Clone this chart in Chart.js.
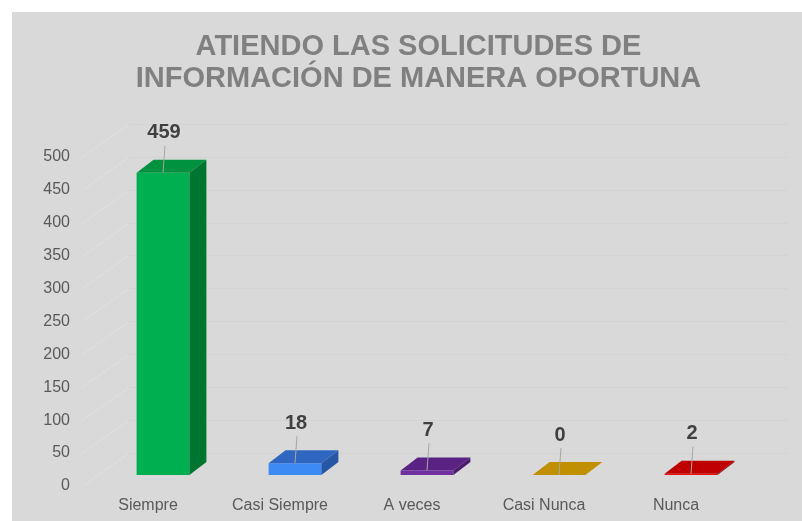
<!DOCTYPE html>
<html>
<head>
<meta charset="utf-8">
<script src="https://cdn.jsdelivr.net/npm/chart.js"></script>
<style>
  body { margin: 0; background: #ffffff; }
  .canvas-body { width: 802px; height: 521px; }
</style>
</head>
<body>
<div class="canvas-body"><canvas id="myChart" width="802" height="521"></canvas></div>
<script>
//  Data
// --------------
const categories = ['Siempre', 'Casi Siempre', 'A veces', 'Casi Nunca', 'Nunca']
const values = [459, 18, 7, 0, 2]
const yTicks = [0, 50, 100, 150, 200, 250, 300, 350, 400, 450, 500]
const titleLines = ['ATIENDO LAS SOLICITUDES DE', 'INFORMACIÓN DE MANERA OPORTUNA']

// colors: front / top / side of each bar
const frontColors = ['#00b050', '#3d8af5', '#7030a0', '#bf9000', '#f01010']
const topColors = ['#00923f', '#2e66c0', '#5a2383', '#c09000', '#c00000']
const sideColors = ['#007530', '#2856a6', '#4a1c6c', '#8f6c00', '#900000']

const FONT = '"Liberation Sans", Arial, sans-serif'

// depth of the 3d look
const depthX = 17, depthY = 13

// 3d walls, bar faces and labels
const bars3d = {
	id: 'bars3d',
	afterLayout(chart) {
		// title is centred on the whole grey box, not on the plot
		const tb = chart.titleBlock
		if (tb) {
			tb.left += 34
			tb.right += 34
		}
	},
	beforeDraw(chart) {
		const ctx = chart.ctx
		ctx.save()
		ctx.fillStyle = '#ffffff'
		ctx.fillRect(0, 0, chart.width, chart.height)
		ctx.fillStyle = '#d9d9d9'
		ctx.fillRect(12, 12, chart.width - 12, chart.height - 12)
		ctx.restore()
	},
	beforeDatasetsDraw(chart) {
		const ctx = chart.ctx
		const ys = chart.scales.y
		const a = chart.chartArea
		ctx.save()
		ctx.lineWidth = 1
		ys.ticks.forEach(t => {
			const py = Math.round(ys.getPixelForValue(t.value)) + 0.5
			ctx.strokeStyle = '#e1e1e1'
			ctx.beginPath()
			ctx.moveTo(a.left - 15, py + 11)
			ctx.lineTo(a.left + 32, py - 22)
			ctx.stroke()
			ctx.strokeStyle = '#d3d3d3'
			ctx.beginPath()
			ctx.moveTo(a.left + 32, py - 22)
			ctx.lineTo(a.right + 30, py - 22)
			ctx.stroke()
		})
		ctx.restore()
	},
	afterDatasetsDraw(chart) {
		const ctx = chart.ctx
		const meta = chart.getDatasetMeta(0)
		ctx.save()
		meta.data.forEach((bar, i) => {
			const half = bar.width / 2
			const l = bar.x - half, r = bar.x + half
			const t = bar.y, b = bar.base
			// top
			ctx.fillStyle = topColors[i]
			ctx.beginPath()
			ctx.moveTo(l, t)
			ctx.lineTo(r, t)
			ctx.lineTo(r + depthX, t - depthY)
			ctx.lineTo(l + depthX, t - depthY)
			ctx.closePath()
			ctx.fill()
			// side
			ctx.fillStyle = sideColors[i]
			ctx.beginPath()
			ctx.moveTo(r, t)
			ctx.lineTo(r + depthX, t - depthY)
			ctx.lineTo(r + depthX, b - depthY)
			ctx.lineTo(r, b)
			ctx.closePath()
			ctx.fill()
			// label + leader line
			const lx = bar.x + 1, ly = t - 40
			ctx.strokeStyle = '#a6a6a6'
			ctx.lineWidth = 1
			ctx.beginPath()
			ctx.moveTo(lx + 1, ly + 13)
			ctx.lineTo(bar.x, t)
			ctx.stroke()
			ctx.fillStyle = '#404040'
			ctx.font = 'bold 20px ' + FONT
			ctx.textAlign = 'center'
			ctx.textBaseline = 'middle'
			ctx.fillText(String(values[i]), lx, ly)
		})
		ctx.restore()
	}
}

const data = {
	labels: categories,
	datasets: [{
		data: values,
		backgroundColor: frontColors,
		borderWidth: 0,
		barPercentage: 0.4,
		categoryPercentage: 1
	}]
}

const config = {
	type: 'bar',
	data,
	options: {
		responsive: false,
		animation: false,
		layout: { padding: { left: 12, top: 12, right: 45, bottom: 6 } },
		plugins: {
			legend: { display: false },
			tooltip: { enabled: false },
			title: {
				display: true,
				text: titleLines,
				color: '#808080',
				font: { family: FONT, size: 29, weight: 'bold', lineHeight: 1.1 },
				padding: { top: 19, bottom: 51 }
			}
		},
		scales: {
			x: {
				afterFit: s => { s.height = 40 },
				grid: { display: false, drawTicks: false },
				border: { display: false },
				ticks: {
					color: '#595959',
					font: { family: FONT, size: 16 },
					padding: 21,
					labelOffset: -15,
					maxRotation: 0
				}
			},
			y: {
				min: 0,
				max: 500,
				afterBuildTicks: s => { s.ticks = yTicks.map(v => ({ value: v })) },
				afterFit: s => {
					s.width = 85
					s.paddingTop = 0
					s.paddingBottom = 0
				},
				grid: { display: false, drawTicks: false },
				border: { display: false },
				ticks: {
					color: '#595959',
					font: { family: FONT, size: 16 },
					padding: 27,
					labelOffset: 11
				}
			}
		}
	},
	plugins: [bars3d]
}

const myChart = new Chart(document.getElementById('myChart'), config)
</script>
</body>
</html>
